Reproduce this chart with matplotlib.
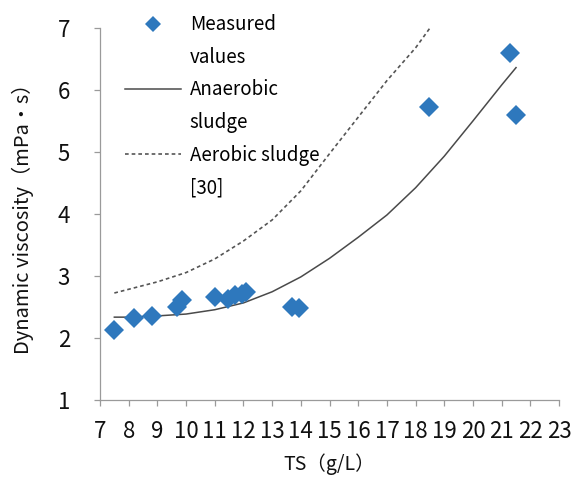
import matplotlib
matplotlib.use("Agg")
import matplotlib.pyplot as plt
from matplotlib.lines import Line2D

plt.rcParams['font.family'] = ['Noto Sans CJK KR', 'DejaVu Sans']

# Measured viscosity of anaerobic sludge
ts_measured = [7.5, 8.2, 8.8, 9.7, 9.85, 11.0, 11.45, 11.7, 11.95, 12.1, 13.7, 13.95, 18.45, 21.3, 21.5]
mu_measured = [2.12, 2.32, 2.35, 2.49, 2.61, 2.66, 2.62, 2.68, 2.71, 2.73, 2.50, 2.47, 5.72, 6.60, 5.60]

# Model curve for anaerobic sludge
ts_anaerobic = [7.5, 8, 9, 10, 11, 12, 13, 14, 15, 16, 17, 18, 19, 20, 21, 21.5]
mu_anaerobic = [2.33, 2.33, 2.35, 2.38, 2.45, 2.56, 2.74, 2.98, 3.28, 3.62, 3.98, 4.42, 4.93, 5.50, 6.08, 6.36]

# Aerobic sludge curve [30]
ts_aerobic = [7.5, 8, 9, 10, 11, 12, 13, 14, 15, 16, 17, 18, 18.5]
mu_aerobic = [2.72, 2.78, 2.90, 3.05, 3.27, 3.56, 3.90, 4.37, 4.97, 5.56, 6.15, 6.68, 7.0]

x_ticks = list(range(7, 24))
y_ticks = list(range(1, 8))

fig = plt.figure(figsize=(5.74, 4.80), dpi=100)
ax = fig.add_axes([0.1742, 0.1677, 0.7998, 0.774])

blue = '#2E78BD'
solid_col = '#4a4a4a'
dash_col = '#555555'
dash_style = (0, (2.2, 1.8))

ax.plot(ts_anaerobic, mu_anaerobic, color=solid_col, lw=1.1, zorder=2)
ax.plot(ts_aerobic, mu_aerobic, color=dash_col, lw=1.2, ls=dash_style, zorder=2)
ax.plot(ts_measured, mu_measured, ls='none', marker='D', ms=10, color=blue,
        markeredgewidth=0, zorder=3)

ax.set_xlim(7, 23)
ax.set_ylim(1, 7)
ax.set_xticks(x_ticks)
ax.set_yticks(y_ticks)
ax.set_xticklabels([str(t) for t in x_ticks])
ax.set_yticklabels([str(t) for t in y_ticks])

for side in ('top', 'right'):
    ax.spines[side].set_visible(False)
for side in ('left', 'bottom'):
    ax.spines[side].set_color('#9a9a9a')
    ax.spines[side].set_linewidth(0.9)
ax.tick_params(axis='both', direction='out', length=4.5, width=0.9, color='#9a9a9a',
               labelsize=16, labelcolor='#111111')
ax.tick_params(axis='x', pad=10)
ax.tick_params(axis='y', pad=17)

ax.set_xlabel('TS（g/L）', fontsize=14, color='#111111', labelpad=8)
ax.set_ylabel('Dynamic viscosity（mPa・s）', fontsize=14.5, color='#111111', labelpad=17)

# Legend rows: each entry wraps onto a second line without a handle
blank = Line2D([], [], ls='none')
handles = [
    Line2D([], [], ls='none', marker='D', ms=8, color=blue, markeredgewidth=0), blank,
    Line2D([], [], color=solid_col, lw=1.1), blank,
    Line2D([], [], color=dash_col, lw=1.2, ls=dash_style), blank,
]
labels = ['Measured', 'values', 'Anaerobic', 'sludge', 'Aerobic sludge', '[30]']
leg = fig.legend(handles, labels, loc='upper left', bbox_to_anchor=(0.203, 0.988),
                 frameon=False, fontsize=13.5, handlelength=3.0, handletextpad=0.45,
                 labelspacing=0.62, borderaxespad=0.05)

fig.savefig('out.png', dpi=100)
